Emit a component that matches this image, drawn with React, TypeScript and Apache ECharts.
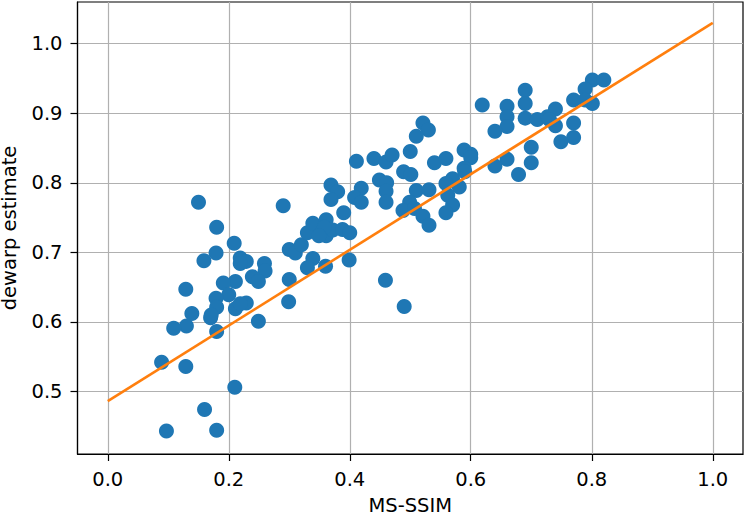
import React, { useEffect, useRef } from "react";
import * as echarts from "echarts";

const msSsim: number[] = [
  0.097, 0.089, 0.129, 0.21, 0.16, 0.18, 0.15, 0.18, 0.209, 0.29, 0.159, 0.179, 0.219, 0.229, 0.219, 0.259,
  0.26, 0.3, 0.31, 0.32, 0.33, 0.339, 0.339, 0.33, 0.3, 0.299, 0.249, 0.239, 0.249, 0.211, 0.191, 0.2,
  0.179, 0.18, 0.17, 0.171, 0.211, 0.229, 0.219, 0.129, 0.139, 0.13, 0.109, 0.18, 0.69, 0.619, 0.66, 0.69,
  0.66, 0.69, 0.71, 0.727, 0.66, 0.64, 0.7, 0.7, 0.679, 0.66, 0.64, 0.521, 0.53, 0.51, 0.5, 0.589,
  0.6, 0.6, 0.589, 0.559, 0.54, 0.57, 0.411, 0.44, 0.46, 0.47, 0.489, 0.501, 0.449, 0.461, 0.369, 0.38,
  0.369, 0.419, 0.408, 0.419, 0.46, 0.46, 0.51, 0.531, 0.499, 0.488, 0.507, 0.521, 0.531, 0.559, 0.581, 0.562,
  0.57, 0.559, 0.59, 0.39, 0.361, 0.361, 0.372, 0.388, 0.4, 0.358, 0.349, 0.36, 0.399, 0.459, 0.49, 0.801,
  0.82, 0.789, 0.801, 0.789, 0.77, 0.77, 0.77, 0.749, 0.74, 0.74, 0.73,
];

const dewarpEstimate: number[] = [
  0.443, 0.542, 0.536, 0.506, 0.474, 0.444, 0.772, 0.736, 0.713, 0.767, 0.688, 0.699, 0.692, 0.687, 0.684, 0.684,
  0.673, 0.704, 0.699, 0.711, 0.728, 0.742, 0.691, 0.678, 0.661, 0.629, 0.601, 0.665, 0.658, 0.658, 0.656, 0.639,
  0.634, 0.621, 0.606, 0.61, 0.619, 0.627, 0.626, 0.647, 0.612, 0.594, 0.591, 0.586, 0.933, 0.912, 0.91, 0.914,
  0.895, 0.893, 0.891, 0.895, 0.881, 0.874, 0.851, 0.829, 0.812, 0.834, 0.824, 0.886, 0.876, 0.867, 0.845, 0.847,
  0.841, 0.836, 0.821, 0.835, 0.829, 0.806, 0.831, 0.835, 0.83, 0.84, 0.816, 0.812, 0.804, 0.8, 0.797, 0.787,
  0.776, 0.792, 0.779, 0.772, 0.788, 0.772, 0.789, 0.79, 0.772, 0.76, 0.763, 0.752, 0.739, 0.799, 0.794, 0.782,
  0.768, 0.757, 0.816, 0.757, 0.747, 0.724, 0.732, 0.733, 0.728, 0.736, 0.724, 0.68, 0.689, 0.66, 0.622, 0.948,
  0.948, 0.935, 0.914, 0.919, 0.919, 0.886, 0.865, 0.859, 0.906, 0.882, 0.891,
];

const fitX: number[] = [0, 1];
const fitY: number[] = [0.486, 1.03];

const xTicks: number[] = [0, 0.2, 0.4, 0.6, 0.8, 1.0];
const yTicks: number[] = [0.5, 0.6, 0.7, 0.8, 0.9, 1.0];

const FONT = "DejaVu Sans";
const FS = 19.5;

export default function App() {
  const ref = useRef<HTMLDivElement>(null);
  useEffect(() => {
    if (!ref.current) return;
    const chart = echarts.init(ref.current, undefined, { renderer: "svg" });
    const axisCommon = {
      axisLine: { show: true, onZero: false, lineStyle: { color: "#000", width: 1.2 } },
      axisTick: { show: true, inside: false, length: 7, lineStyle: { color: "#000", width: 1.2 } },
      splitLine: { show: true, lineStyle: { color: "#b0b0b0", width: 1.2 } },
    };
    chart.setOption({
      animation: false,
      backgroundColor: "#fff",
      grid: {
        left: 77.5,
        top: 2,
        right: 4,
        bottom: 62,
        show: true,
        borderColor: "#000",
        borderWidth: 1.2,
        backgroundColor: "transparent",
        containLabel: false,
        outerBoundsMode: "none",
      },
      xAxis: {
        type: "value",
        min: -0.05,
        max: 1.05,
        name: "MS-SSIM",
        nameLocation: "middle",
        nameGap: 41,
        nameTextStyle: { fontFamily: FONT, fontSize: FS, color: "#000" },
        ...axisCommon,
        axisTick: { ...axisCommon.axisTick, customValues: xTicks },
        axisLabel: {
          customValues: xTicks,
          formatter: (v: number) => v.toFixed(1),
          fontFamily: FONT,
          fontSize: FS,
          color: "#000",
          margin: 15,
        },
      },
      yAxis: {
        type: "value",
        min: 0.41,
        max: 1.06,
        name: "dewarp estimate",
        nameLocation: "middle",
        nameGap: 59,
        nameTextStyle: { fontFamily: FONT, fontSize: FS, color: "#000", lineHeight: 19 },
        ...axisCommon,
        axisTick: { ...axisCommon.axisTick, customValues: yTicks },
        axisLabel: {
          customValues: yTicks,
          formatter: (v: number) => v.toFixed(1),
          fontFamily: FONT,
          fontSize: FS,
          color: "#000",
          margin: 15,
        },
      },
      series: [
        {
          type: "scatter",
          data: msSsim.map((x, i) => [x, dewarpEstimate[i]]),
          symbol: "circle",
          symbolSize: 15,
          itemStyle: { color: "#1f77b4", opacity: 1 },
          z: 2,
        },
        {
          type: "line",
          data: fitX.map((x, i) => [x, fitY[i]]),
          showSymbol: false,
          symbol: "none",
          lineStyle: { color: "#ff7f0e", width: 2.6 },
          z: 3,
        },
      ],
    });
    return () => chart.dispose();
  }, []);
  return (
    <div
      ref={ref}
      style={{ position: "fixed", left: 0, top: 0, width: 747, height: 516 }}
    />
  );
}
